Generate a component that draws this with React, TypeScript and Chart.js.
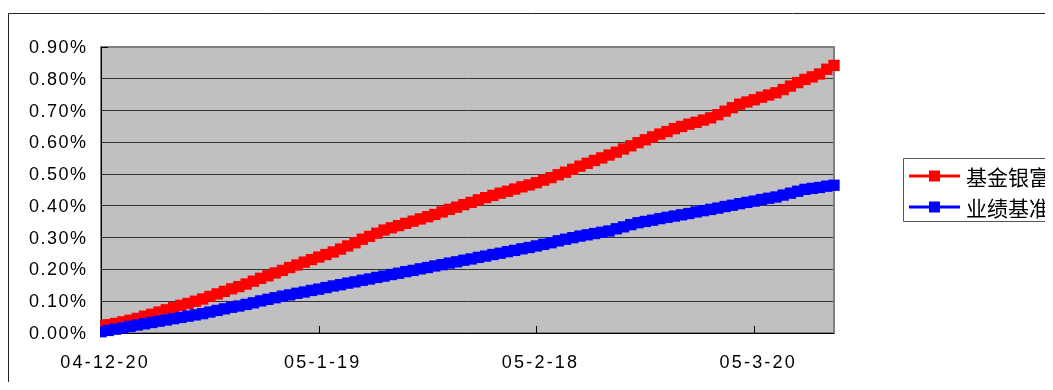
import React, { useEffect, useRef } from "react";
import { Chart, registerables } from "chart.js";

Chart.register(...registerables);

// Daily categories 04-12-20 .. 05-3-31
const START_YEAR = 2004;
const START_MONTH = 11; // December (0-based)
const START_DAY = 20;
const DAY_COUNT = 102;
const categories: string[] = Array.from({ length: DAY_COUNT }, (_, i) => {
  const d = new Date(START_YEAR, START_MONTH, START_DAY + i);
  return `${String(d.getFullYear()).slice(2)}-${d.getMonth() + 1}-${d.getDate()}`;
});

const tickIndices = [0, 30, 60, 90];
const yTicks = [0, 0.1, 0.2, 0.3, 0.4, 0.5, 0.6, 0.7, 0.8, 0.9];

const seriesNames = ["基金银富", "业绩基准"];

// values in percent
const fundValues = [
  0.022, 0.026, 0.030, 0.035, 0.040, 0.046, 0.053, 0.059, 0.066, 0.073,
  0.080, 0.087, 0.093, 0.100, 0.107, 0.115, 0.123, 0.131, 0.139, 0.146,
  0.154, 0.163, 0.172, 0.180, 0.189, 0.197, 0.206, 0.214, 0.223, 0.231,
  0.239, 0.247, 0.255, 0.264, 0.274, 0.284, 0.295, 0.304, 0.314, 0.324,
  0.331, 0.338, 0.345, 0.352, 0.359, 0.366, 0.373, 0.381, 0.389, 0.396,
  0.404, 0.411, 0.419, 0.426, 0.433, 0.440, 0.446, 0.453, 0.460, 0.466,
  0.473, 0.481, 0.489, 0.498, 0.506, 0.515, 0.525, 0.534, 0.543, 0.551,
  0.560, 0.569, 0.579, 0.589, 0.599, 0.608, 0.617, 0.626, 0.634, 0.643,
  0.650, 0.657, 0.663, 0.670, 0.677, 0.687, 0.698, 0.709, 0.720, 0.727,
  0.734, 0.742, 0.749, 0.756, 0.766, 0.777, 0.788, 0.798, 0.806, 0.815,
  0.830, 0.842,
];

const benchmarkValues = [
  0.004, 0.008, 0.012, 0.016, 0.021, 0.025, 0.029, 0.033, 0.037, 0.041,
  0.045, 0.049, 0.053, 0.057, 0.061, 0.066, 0.071, 0.076, 0.081, 0.085,
  0.090, 0.095, 0.101, 0.106, 0.111, 0.116, 0.120, 0.125, 0.129, 0.134,
  0.138, 0.143, 0.148, 0.152, 0.157, 0.161, 0.166, 0.170, 0.175, 0.179,
  0.184, 0.188, 0.193, 0.197, 0.202, 0.206, 0.211, 0.215, 0.220, 0.224,
  0.229, 0.233, 0.238, 0.242, 0.247, 0.251, 0.256, 0.260, 0.265, 0.269,
  0.274, 0.279, 0.284, 0.290, 0.295, 0.300, 0.305, 0.309, 0.313, 0.317,
  0.321, 0.328, 0.334, 0.341, 0.347, 0.351, 0.355, 0.360, 0.364, 0.368,
  0.372, 0.376, 0.381, 0.385, 0.389, 0.393, 0.398, 0.402, 0.407, 0.411,
  0.415, 0.420, 0.424, 0.428, 0.434, 0.440, 0.446, 0.452, 0.455, 0.458,
  0.462, 0.465,
];

const seriesColors = ["#ff0000", "#0000ff"];

const CANVAS_W = 1045;
const CANVAS_H = 382;
const PLOT_RIGHT = 826;
const LATIN_FONT = '"Liberation Sans", Arial, sans-serif';
const CJK_FONT = '"Noto Sans CJK SC", "Noto Sans", sans-serif';

const decorPlugin = {
  id: "decor",
  beforeDraw(chart: any) {
    const { ctx, chartArea: a, width, height } = chart;
    ctx.save();
    ctx.fillStyle = "#ffffff";
    ctx.fillRect(0, 0, width, height);
    ctx.strokeStyle = "#222222";
    ctx.lineWidth = 1;
    ctx.beginPath();
    ctx.moveTo(0.5, height + 5);
    ctx.lineTo(0.5, 5.5);
    ctx.lineTo(width + 5, 5.5);
    ctx.stroke();
    ctx.fillStyle = "#c0c0c0";
    ctx.fillRect(a.left, a.top, a.right - a.left, a.bottom - a.top);
    ctx.restore();
  },
  beforeDatasetsDraw(chart: any) {
    const { ctx, chartArea: a, scales } = chart;
    ctx.save();
    ctx.strokeStyle = "#808080";
    ctx.lineWidth = 2;
    ctx.strokeRect(a.left, a.top, a.right - a.left, a.bottom - a.top);
    ctx.strokeStyle = "#000000";
    ctx.lineWidth = 1;
    ctx.beginPath();
    ctx.moveTo(a.left + 0.5, a.top);
    ctx.lineTo(a.left + 0.5, a.bottom);
    ctx.moveTo(a.left, a.bottom + 0.5);
    ctx.lineTo(a.right, a.bottom + 0.5);
    const yTop = Math.round(scales.y.getPixelForValue(0.9)) + 0.5;
    ctx.moveTo(a.left, yTop);
    ctx.lineTo(a.left + 7, yTop);
    tickIndices.forEach((i) => {
      if (i === 0) return;
      const x = Math.round(scales.x.getPixelForValue(i)) + 0.5;
      ctx.moveTo(x, a.bottom);
      ctx.lineTo(x, a.bottom - 7);
    });
    ctx.stroke();
    ctx.restore();
  },
  afterDraw(chart: any) {
    const { ctx, width, chartArea: a, scales } = chart;
    ctx.save();
    ctx.fillStyle = "#000000";
    ctx.font = `18px ${LATIN_FONT}`;
    ctx.textBaseline = "middle";
    const ySp = 1.5;
    (ctx as any).letterSpacing = `${ySp}px`;
    ctx.textAlign = "right";
    yTicks.forEach((v) => {
      const y = scales.y.getPixelForValue(v);
      ctx.fillText(`${v.toFixed(2)}%`, 78 + ySp, y + 1);
    });
    const xSp = 2.2;
    (ctx as any).letterSpacing = `${xSp}px`;
    ctx.textAlign = "center";
    tickIndices.forEach((i) => {
      const x = scales.x.getPixelForValue(i);
      ctx.fillText(categories[i], x + 3 + xSp / 2, a.bottom + 30);
    });
    (ctx as any).letterSpacing = "0px";

    // legend
    const boxLeft = 895;
    const boxTop = 150;
    const boxBottom = 213;
    ctx.fillStyle = "#ffffff";
    ctx.fillRect(boxLeft, boxTop, width - boxLeft + 10, boxBottom - boxTop);
    ctx.strokeStyle = "#555555";
    ctx.lineWidth = 1;
    ctx.beginPath();
    ctx.moveTo(width + 5, boxTop + 0.5);
    ctx.lineTo(boxLeft + 0.5, boxTop + 0.5);
    ctx.lineTo(boxLeft + 0.5, boxBottom + 0.5);
    ctx.lineTo(width + 5, boxBottom + 0.5);
    ctx.stroke();
    const rows = [168, 199];
    rows.forEach((y, k) => {
      ctx.strokeStyle = seriesColors[k];
      ctx.fillStyle = seriesColors[k];
      ctx.lineWidth = 3;
      ctx.beginPath();
      ctx.moveTo(901, y);
      ctx.lineTo(952, y);
      ctx.stroke();
      ctx.fillRect(921, y - 5.5, 11, 11);
      ctx.fillStyle = "#000000";
      ctx.font = `21px ${CJK_FONT}`;
      ctx.textBaseline = "middle";
      ctx.textAlign = "left";
      ctx.fillText(seriesNames[k], 958, y + 1);
    });
    ctx.restore();
  },
};

export default function App() {
  const canvasRef = useRef<HTMLCanvasElement | null>(null);

  useEffect(() => {
    document.documentElement.style.overflow = "hidden";
    document.body.style.overflow = "hidden";
    if (!canvasRef.current) return;
    const chart = new Chart(canvasRef.current, {
      type: "line",
      data: {
        labels: categories,
        datasets: [
          {
            label: seriesNames[0],
            data: fundValues,
            borderColor: seriesColors[0],
            backgroundColor: seriesColors[0],
            borderWidth: 3,
            pointStyle: "rect",
            pointRadius: 8,
            pointBorderWidth: 0,
            pointBackgroundColor: seriesColors[0],
            tension: 0,
            clip: { left: 1, top: false, right: false, bottom: false } as any,
            order: 1,
          },
          {
            label: seriesNames[1],
            data: benchmarkValues,
            borderColor: seriesColors[1],
            backgroundColor: seriesColors[1],
            borderWidth: 3,
            pointStyle: "rect",
            pointRadius: 8,
            pointBorderWidth: 0,
            pointBackgroundColor: seriesColors[1],
            tension: 0,
            clip: { left: 1, top: false, right: false, bottom: false } as any,
            order: 0,
          },
        ],
      },
      options: {
        responsive: false,
        maintainAspectRatio: false,
        animation: false,
        layout: { padding: { left: 0, top: 39, right: CANVAS_W - PLOT_RIGHT, bottom: 0 } },
        plugins: {
          legend: { display: false },
          tooltip: { enabled: false },
        },
        scales: {
          x: {
            type: "category",
            offset: false,
            grid: { display: false, drawTicks: false },
            border: { display: false },
            ticks: { display: false, autoSkip: false, maxRotation: 0, minRotation: 0 },
            afterFit: (scale: any) => {
              scale.height = 57;
            },
          },
          y: {
            min: 0,
            max: 0.9,
            grid: {
              drawTicks: false,
              lineWidth: 1,
              color: (c: any) =>
                c.tick && (c.tick.value === 0 || Math.abs(c.tick.value - 0.9) < 1e-9)
                  ? "rgba(0,0,0,0)"
                  : "#333333",
            },
            border: { display: false },
            afterBuildTicks: (scale: any) => {
              scale.ticks = yTicks.map((v) => ({ value: v }));
            },
            ticks: { display: false },
            afterFit: (scale: any) => {
              scale.width = 93;
            },
          },
        },
      },
      plugins: [decorPlugin],
    });
    return () => chart.destroy();
  }, []);

  return (
    <div style={{ width: CANVAS_W, height: CANVAS_H, marginBottom: -8, overflow: "hidden" }}>
      <canvas
        ref={canvasRef}
        width={CANVAS_W}
        height={CANVAS_H}
        style={{ display: "block", width: CANVAS_W, height: CANVAS_H }}
      />
    </div>
  );
}
